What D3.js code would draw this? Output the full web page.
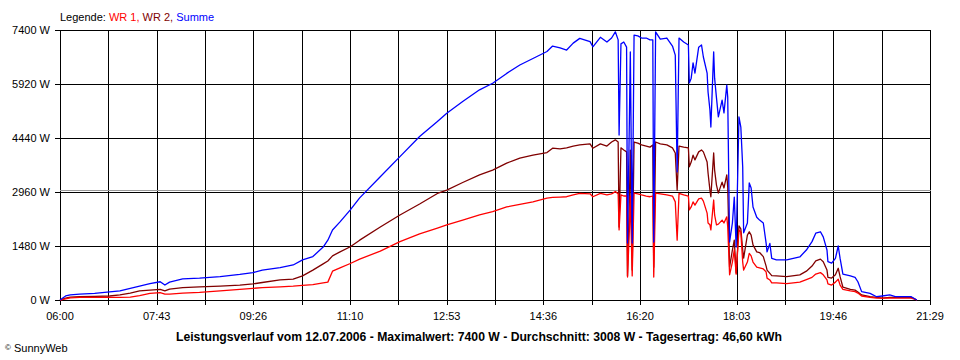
<!DOCTYPE html>
<html>
<head>
<meta charset="utf-8">
<title>SunnyWeb - Leistungsverlauf</title>
<script src="https://cdn.jsdelivr.net/npm/d3@7"></script>
<style>
  body { margin: 0; background: #fff; }
  svg { display: block; font-family: "Liberation Sans", Arial, sans-serif; font-size: 11px; }
</style>
</head>
<body>
<svg id="chart" width="960" height="360"></svg>
<script>
// readings, 12.07.2006
const times = ["06:00","06:06","06:11","06:21","06:37","06:53","07:04","07:15","07:25","07:36",
  "07:47","07:52","07:57","08:11","08:29","08:51","09:12","09:26","09:36","09:55",
  "10:09","10:19","10:30","10:41","10:46","10:51","10:59","11:10","11:20","11:42",
  "12:03","12:24","12:43","12:53","13:10","13:28","13:42","13:57","14:11","14:25",
  "14:40","14:46","14:54","15:01","15:08","15:15","15:26","15:29","15:37","15:44",
  "15:49","15:53","15:56","15:57","15:59","16:02","16:05","16:06","16:08","16:09",
  "16:11","16:13","16:17","16:21","16:26","16:30","16:33","16:34","16:36","16:41",
  "16:48","16:54","16:57","16:59","17:01","17:06","17:11","17:12","17:14","17:16",
  "17:18","17:22","17:25","17:27","17:31","17:32","17:34","17:35","17:38","17:39",
  "17:41","17:43","17:47","17:49","17:52","17:53","17:55","17:58","18:00","18:02",
  "18:05","18:07","18:09","18:10","18:14","18:16","18:18","18:20","18:24","18:27",
  "18:31","18:34","18:35","18:38","18:40","18:45","18:56","19:10","19:17","19:23",
  "19:27","19:32","19:35","19:39","19:40","19:44","19:48","19:51","19:53","19:56",
  "20:04","20:09","20:12","20:16","20:25","20:32","20:38","20:46","20:52","21:09",
  "21:15"];

const wr1 = [0,30,60,70,70,70,70,80,120,180,
  200,160,160,190,210,250,290,320,340,360,
  380,400,420,470,490,790,880,1000,1120,1340,
  1600,1810,1970,2060,2190,2330,2420,2550,2620,2690,
  2790,2810,2820,2830,2880,2920,2910,2830,2920,2880,
  2910,2970,2910,1920,2880,2850,2850,630,1920,2850,
  660,2930,2910,2880,2850,2830,2850,630,2930,2910,
  2880,2850,2690,1640,2920,2880,2850,2470,2550,2690,
  2600,2770,2790,2710,2380,2110,2060,1920,2740,2330,
  2060,2080,2190,2110,2280,2010,690,1040,1370,710,
  1920,1860,1040,820,1040,1280,1210,1040,900,880,
  850,770,600,550,470,470,450,490,560,620,
  710,750,690,550,440,410,490,570,410,290,
  250,230,190,110,70,50,50,50,50,50,
  0];

const wr2 = [0,50,80,90,100,110,140,190,250,270,
  290,250,300,340,360,380,410,440,480,550,
  570,660,820,990,1070,1210,1320,1460,1640,2000,
  2330,2630,2920,3010,3220,3430,3560,3750,3890,3970,
  4040,4160,4140,4170,4220,4250,4280,4160,4280,4220,
  4330,4390,4330,2000,4170,4110,4060,660,2740,4110,
  820,4330,4300,4250,4220,4190,4250,900,4330,4280,
  4250,4170,4030,3010,4220,4190,4170,3650,3780,3970,
  3840,4060,4110,4060,3780,3480,3010,2830,4030,3560,
  3150,2930,3230,3070,3430,3100,900,1370,1640,740,
  2030,1950,1370,1150,1780,1870,1780,1510,1320,1300,
  1190,930,820,730,670,660,640,690,790,930,
  1070,1120,1050,820,620,600,690,870,640,350,
  290,270,220,140,90,70,50,70,70,70,
  0];

const summe = [0,110,140,160,180,220,250,320,380,450,
  500,410,490,580,600,640,700,750,820,890,
  960,1100,1190,1450,1640,1920,2140,2470,2800,3380,
  3930,4480,4890,5120,5440,5760,5940,6210,6440,6620,
  6810,6960,6910,6850,7040,7170,7080,6940,7200,7070,
  7180,7350,7130,4520,7020,7070,6930,1560,4930,6800,
  1560,7260,7240,7180,7180,7130,7130,1590,7350,7150,
  7180,6960,6710,3510,7180,7070,6990,5950,6080,6500,
  6220,6930,6990,6660,6220,5700,5210,4740,6800,6080,
  5540,5020,5480,5130,5890,5560,1590,2110,2820,1450,
  5020,4740,3650,1840,2110,3210,3070,2550,2270,2190,
  2110,1560,1320,1550,1140,1100,1100,1180,1370,1600,
  1830,1870,1730,1370,1050,1010,1140,1480,1140,710,
  660,620,500,230,180,90,110,140,90,90,
  0];

const yTicks = [0, 1480, 2960, 4440, 5920, 7400];
const xTickLabels = ["06:00","07:43","09:26","11:10","12:53","14:36","16:20","18:03","19:46","21:29"];
const average = 3008;
const titleText = "Leistungsverlauf vom 12.07.2006 - Maximalwert: 7400 W - Durchschnitt: 3008 W - Tagesertrag: 46,60 kWh";

function toMinutes(t) {
    const [h, m] = t.split(":").map(Number);
    return h * 60 + m;
}

const svg = d3.select("#chart");
const margin = {top: 30, right: 30, bottom: 60, left: 60};
const width = +svg.attr("width") - margin.left - margin.right;
const height = +svg.attr("height") - margin.top - margin.bottom;

const t0 = toMinutes(xTickLabels[0]), t1 = toMinutes(xTickLabels[xTickLabels.length - 1]);
const x = d3.scaleLinear().domain([t0, t1]).range([0, width]);
const y = d3.scaleLinear().domain([0, 7400]).range([height, 0]);
const px = v => Math.round(v) + 0.5;

const g = svg.append("g").attr("transform", "translate(" + margin.left + "," + margin.top + ")");

// vertical grid: one line every half label step
const gridTimes = d3.range(2 * (xTickLabels.length - 1) + 1).map(i => t0 + i * (t1 - t0) / (2 * (xTickLabels.length - 1)));
g.append("g").selectAll("line").data(gridTimes).enter().append("line")
    .attr("x1", d => px(x(d))).attr("x2", d => px(x(d)))
    .attr("y1", 0).attr("y2", height + 5)
    .attr("stroke", "#000").attr("shape-rendering", "crispEdges");

g.append("g").selectAll("line").data(yTicks).enter().append("line")
    .attr("x1", -5).attr("x2", width + 1)
    .attr("y1", d => px(y(d))).attr("y2", d => px(y(d)))
    .attr("stroke", "#000").attr("shape-rendering", "crispEdges");

// average line
g.append("line")
    .attr("x1", 0).attr("x2", width + 1)
    .attr("y1", px(y(average))).attr("y2", px(y(average)))
    .attr("stroke", "#9a9a9a").attr("shape-rendering", "crispEdges");

g.append("g").selectAll("text").data(yTicks).enter().append("text")
    .attr("x", -10).attr("y", d => y(d)).attr("dy", "0.35em")
    .attr("text-anchor", "end").text(d => d + " W");

g.append("g").selectAll("text").data(xTickLabels).enter().append("text")
    .attr("x", (d, i) => x(gridTimes[2 * i])).attr("y", height + 20)
    .attr("text-anchor", "middle").text(d => d);

const line = d3.line().x(d => x(d.t)).y(d => y(d.v));
const series = [
    {name: "WR 2", values: wr2, color: "#800000"},
    {name: "WR 1", values: wr1, color: "#ff0000"},
    {name: "Summe", values: summe, color: "#0000ff"}
];
series.forEach(s => {
    const pts = times.map((t, i) => ({t: toMinutes(t), v: s.values[i]}));
    g.append("path").datum(pts)
        .attr("d", line)
        .attr("fill", "none")
        .attr("stroke", s.color)
        .attr("stroke-width", 1.3)
        .attr("stroke-linejoin", "round");
});

// legend
const legend = svg.append("text").attr("x", 60).attr("y", 21);
legend.append("tspan").attr("fill", "#000").text("Legende: ");
legend.append("tspan").attr("fill", "#ff0000").text("WR 1, ");
legend.append("tspan").attr("fill", "#800000").text("WR 2, ");
legend.append("tspan").attr("fill", "#0000ff").text("Summe");

svg.append("text")
    .attr("x", 479).attr("y", 341)
    .attr("text-anchor", "middle")
    .attr("font-weight", "bold")
    .attr("font-size", 12)
    .attr("textLength", 606)
    .attr("lengthAdjust", "spacingAndGlyphs")
    .text(titleText);

const copy = svg.append("text").attr("x", 5).attr("y", 352);
copy.append("tspan").attr("font-size", 8).attr("dy", -2).text("©");
copy.append("tspan").attr("dy", 2).text(" SunnyWeb");
</script>
</body>
</html>
